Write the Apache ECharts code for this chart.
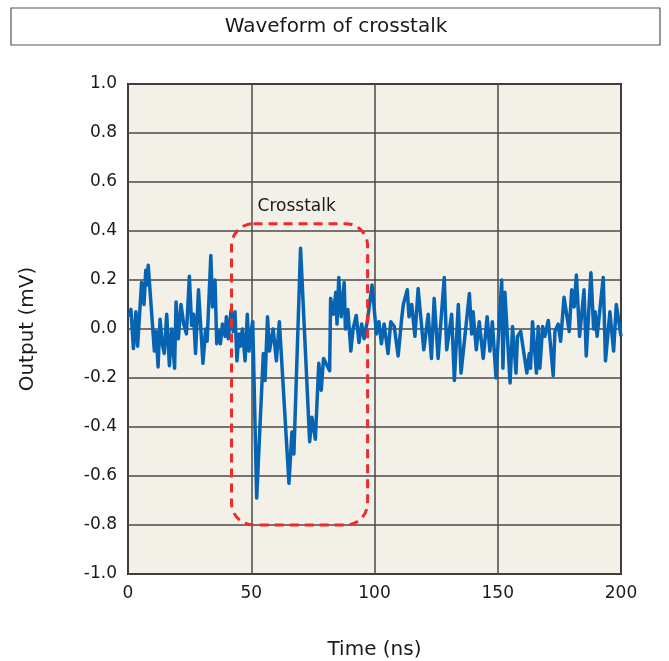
<!DOCTYPE html>
<html>
<head>
<meta charset="utf-8">
<script src="https://cdn.jsdelivr.net/npm/echarts@6/dist/echarts.min.js"></script>
<style>html,body{margin:0;padding:0;background:#fff;}#c{width:669px;height:661px;}</style>
</head>
<body>
<div id="c"></div>
<script>
// Traced waveform vertices: time (ns) and output (mV)
var times = [0.5,1.2,2.2,3.2,3.9,5.5,6.5,7.2,7.7,8.2,10.7,11.4,12.2,13.0,13.9,14.7,15.7,16.8,17.7,18.9,19.5,20.4,21.5,22.6,23.7,24.9,25.8,26.6,27.4,28.6,30.4,31.5,32.1,33.6,34.3,35.3,36.0,37.0,37.5,38.3,39.4,39.9,40.7,41.8,42.7,43.4,44.2,45.0,45.6,46.4,47.5,48.4,49.1,49.9,50.6,52.2,54.9,55.6,56.6,57.4,58.9,60.2,61.4,65.3,66.5,67.3,70.0,73.7,74.6,76.0,77.4,78.4,79.3,81.8,82.2,83.3,84.3,84.8,85.5,86.5,87.7,88.2,89.2,90.4,91.3,92.6,93.7,94.8,95.8,97.2,99.0,100.8,101.8,102.8,103.9,105.5,106.6,108.0,109.6,111.0,111.7,113.3,114.0,115.1,116.4,117.7,120.0,121.8,123.1,124.2,125.8,128.3,129.3,131.3,132.4,134.0,135.1,138.5,139.4,140.0,141.3,142.5,144.1,145.7,146.8,147.8,149.3,151.6,152.1,152.9,155.0,156.0,157.4,158.0,159.3,161.8,162.8,163.3,164.1,165.7,166.4,167.1,168.2,169.1,170.5,172.5,173.2,174.5,175.5,176.9,179.0,180.0,181.0,181.9,183.2,185.0,185.9,187.8,188.9,189.5,190.3,192.8,193.7,195.5,197.0,198.1,200.0];
var outputs = [0.05,0.08,-0.08,0.07,-0.07,0.19,0.10,0.24,0.18,0.26,-0.09,-0.01,-0.155,0.04,-0.06,-0.10,0.06,-0.15,0.0,-0.16,0.11,-0.04,0.10,0.02,-0.02,0.215,0.015,0.06,-0.10,0.16,-0.14,0.0,-0.05,0.30,0.09,0.20,-0.06,-0.01,-0.06,0.02,-0.03,0.05,-0.04,0.075,-0.01,0.07,-0.13,-0.02,-0.07,0.0,-0.13,0.06,-0.09,-0.01,0.03,-0.69,-0.10,-0.21,0.05,-0.09,0.0,-0.13,0.03,-0.63,-0.42,-0.51,0.33,-0.46,-0.36,-0.45,-0.14,-0.25,-0.12,-0.17,0.125,0.06,0.15,0.02,0.21,0.05,0.19,0.0,0.08,-0.09,0.0,0.055,-0.055,0.02,-0.04,0.04,0.18,-0.02,0.03,-0.06,0.02,-0.10,0.03,0.01,-0.11,0.04,0.10,0.16,0.05,0.10,-0.03,0.165,-0.085,0.06,-0.12,0.125,-0.12,0.21,-0.085,0.06,-0.21,0.10,-0.18,0.145,-0.02,0.07,-0.085,0.03,-0.12,0.05,-0.09,0.03,-0.20,0.20,-0.16,0.15,-0.22,0.01,-0.18,-0.03,-0.01,-0.18,-0.10,-0.16,0.03,-0.18,0.01,-0.16,0.01,-0.03,0.035,-0.19,-0.01,0.02,-0.05,0.13,-0.01,0.16,0.09,0.22,-0.03,0.16,-0.11,0.23,0.0,0.07,-0.03,0.21,-0.13,0.07,-0.09,0.10,-0.03];
var xTicks = [0, 50, 100, 150, 200];
var yTicks = [-1.0,-0.8,-0.6,-0.4,-0.2,0.0,0.2,0.4,0.6,0.8,1.0];
var chartTitle = 'Waveform of crosstalk';
var annotationText = 'Crosstalk';
// annotation box corners in data coordinates [time, output]
var boxTopLeft = [42, 0.43];
var boxBottomRight = [97.2, -0.80];

var FONT = 'DejaVu Sans';
var chart = echarts.init(document.getElementById('c'), null, {renderer: 'canvas'});
var seriesData = times.map(function (t, i) { return [t, outputs[i]]; });

chart.setOption({
  animation: false,
  backgroundColor: '#ffffff',
  grid: {left: 128, right: 48, top: 84, bottom: 87, show: true, containLabel: false,
         outerBoundsMode: 'none',
         backgroundColor: '#f2f0e7', borderColor: '#1a1a1a', borderWidth: 2},
  xAxis: {
    type: 'value', min: xTicks[0], max: xTicks[xTicks.length - 1], interval: 50,
    name: 'Time (ns)', nameLocation: 'middle', nameGap: 66,
    nameTextStyle: {fontFamily: FONT, fontSize: 20, color: '#1a1a1a'},
    axisLine: {show: false}, axisTick: {show: false},
    axisLabel: {fontFamily: FONT, fontSize: 17, color: '#1a1a1a', margin: 11},
    splitLine: {show: true, lineStyle: {color: '#4a4a4a', width: 1.5}}
  },
  yAxis: {
    type: 'value', min: yTicks[0], max: yTicks[yTicks.length - 1], interval: 0.2,
    name: 'Output (mV)', nameLocation: 'middle', nameGap: 90, nameRotate: 90,
    nameTextStyle: {fontFamily: FONT, fontSize: 20, color: '#1a1a1a'},
    axisLine: {show: false}, axisTick: {show: false},
    axisLabel: {fontFamily: FONT, fontSize: 17, color: '#1a1a1a', margin: 11,
                formatter: function (v) { return v.toFixed(1); }},
    splitLine: {show: true, lineStyle: {color: '#4a4a4a', width: 1.5}}
  },
  series: [{
    type: 'line', data: seriesData, showSymbol: false, symbol: 'none',
    lineStyle: {color: '#0764b2', width: 3.5, join: 'round'}, z: 3
  }]
});

var p1 = chart.convertToPixel({gridIndex: 0}, boxTopLeft);
var p2 = chart.convertToPixel({gridIndex: 0}, boxBottomRight);

chart.setOption({
  graphic: [
    {type: 'rect', shape: {x: 11, y: 8, width: 649, height: 37},
     style: {fill: '#fff', stroke: '#555', lineWidth: 1.2}},
    {type: 'text', x: 336, y: 27,
     style: {text: chartTitle, fontFamily: FONT, fontSize: 20, fill: '#1a1a1a',
             align: 'center', verticalAlign: 'middle'}},
    {type: 'rect', z: 10,
     shape: {x: p1[0], y: p1[1], width: p2[0] - p1[0], height: p2[1] - p1[1], r: 22},
     style: {fill: 'none', stroke: '#ee2a2a', lineWidth: 3, lineDash: [9, 6]}},
    {type: 'text', z: 10, x: p1[0] + 26, y: p1[1] - 17,
     style: {text: annotationText, fontFamily: FONT, fontSize: 17, fill: '#1a1a1a',
             align: 'left', verticalAlign: 'middle'}}
  ]
});
</script>
</body>
</html>
